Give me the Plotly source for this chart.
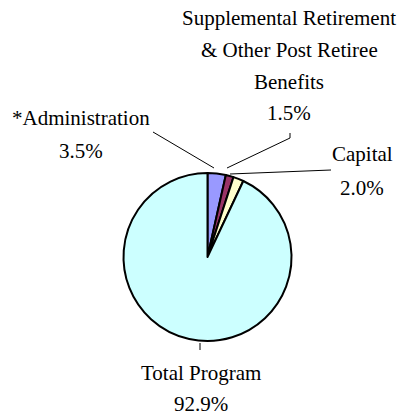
import plotly.graph_objects as go

categories = ["*Administration", "Supplemental Retirement & Other Post Retiree Benefits", "Capital", "Total Program"]
values = [3.5, 1.5, 2.0, 92.9]
pct_labels = ["3.5%", "1.5%", "2.0%", "92.9%"]
colors = ["#9999FF", "#993366", "#FFFFCC", "#CCFFFF"]

W, H = 401, 417

def px(x):
    return x / W

def py(y):
    return 1 - y / H

cx, cy, r = 207.5, 257, 84

fig = go.Figure(go.Pie(
    labels=categories,
    values=values,
    sort=False,
    direction="clockwise",
    rotation=0,
    textinfo="none",
    hoverinfo="label+percent",
    marker=dict(colors=colors, line=dict(color="black", width=2)),
    domain=dict(x=[px(cx - r), px(cx + r)], y=[py(cy + r), py(cy - r)]),
    showlegend=False,
))

font = dict(family="Liberation Serif, Times New Roman, serif", size=21, color="black")

label_lines = [
    (["*Administration", pct_labels[0]], 81, [118, 151]),
    (["Supplemental Retirement", "& Other Post Retiree", "Benefits", pct_labels[1]], 289, [18, 50, 82, 113]),
    (["Capital", pct_labels[2]], 362, [154, 188]),
    (["Total Program", pct_labels[3]], 201, [373, 404]),
]
annotations = []
for lines, x, ys in label_lines:
    for t, y in zip(lines, ys):
        annotations.append(dict(text=t, x=px(x), y=py(y), xref="paper", yref="paper",
                                showarrow=False, xanchor="center", yanchor="middle", font=font))

leaders = [
    [(153, 132), (214, 168)],
    [(290, 133), (290, 138), (227, 168)],
    [(230, 174), (331, 170)],
    [(200, 343), (200, 350)],
]
shapes = []
for pts in leaders:
    for (x0, y0), (x1, y1) in zip(pts[:-1], pts[1:]):
        shapes.append(dict(type="line", xref="paper", yref="paper",
                           x0=px(x0), y0=py(y0), x1=px(x1), y1=py(y1),
                           line=dict(color="black", width=1)))

fig.update_layout(
    width=W, height=H,
    margin=dict(l=0, r=0, t=0, b=0),
    paper_bgcolor="white", plot_bgcolor="white",
    annotations=annotations, shapes=shapes,
)

fig.write_html("out.html", config={"displayModeBar": False},
               post_script="document.body.style.margin='0';document.body.style.overflow='hidden';")
